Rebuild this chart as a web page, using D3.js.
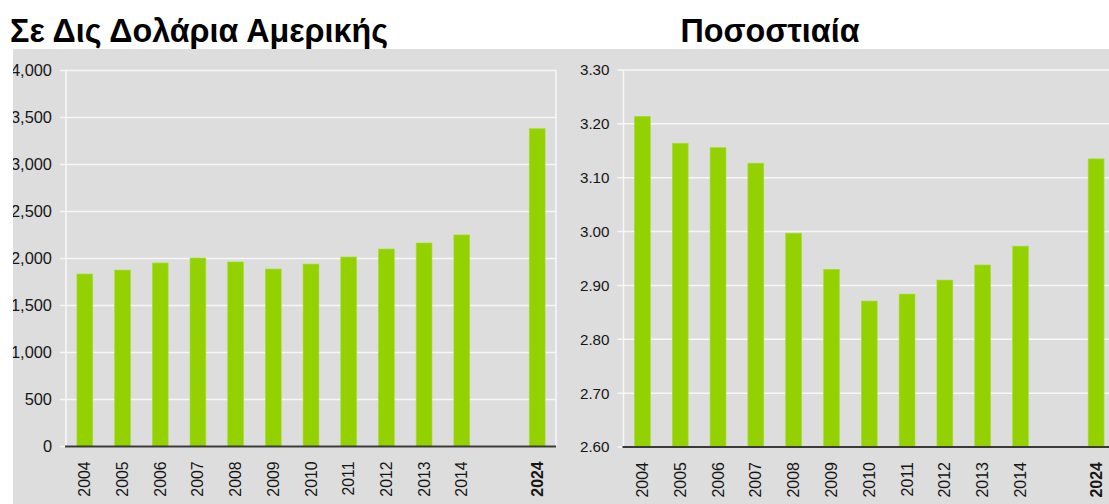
<!DOCTYPE html>
<html lang="el">
<head>
	<meta charset="UTF-8">
	<title>Chart</title>
	<script src="https://cdn.jsdelivr.net/npm/d3@7"></script>
	<style>
		body { margin: 0; background: #fff; }
		text { font-family: "Liberation Sans", Arial, sans-serif; }
	</style>
</head>
<body>
	<svg id="chart" width="1109" height="504"></svg>
</body>
<script>

const years = ['2004','2005','2006','2007','2008','2009','2010','2011','2012','2013','2014','gap','2024'];
const usdValues = [1835,1877,1952,2005,1963,1888,1941,2016,2101,2165,2251,null,3381];
const pctValues = [3.214,3.164,3.156,3.127,2.997,2.930,2.871,2.884,2.910,2.938,2.973,null,3.135];
const usdTicks = [0,500,1000,1500,2000,2500,3000,3500,4000];
const pctTicks = [2.60,2.70,2.80,2.90,3.00,3.10,3.20,3.30];
const titles = ['Σε Δις Δολάρια Αμερικής','Ποσοστιαία'];

const svg = d3.select('#chart');

svg.append('defs').append('clipPath').attr('id','panel')
	.append('rect').attr('x',13).attr('y',49).attr('width',1096).attr('height',455);

svg.append('rect')
	.attr('x',13).attr('y',49).attr('width',1096).attr('height',455)
	.attr('fill','#dddddd');

svg.append('text').attr('x',10).attr('y',42)
	.attr('font-size',32.3).attr('font-weight','bold').attr('fill','#000')
	.text(titles[0]);
svg.append('text').attr('x',770).attr('y',42).attr('text-anchor','middle')
	.attr('font-size',32.3).attr('font-weight','bold').attr('fill','#000')
	.text(titles[1]);

const g = svg.append('g').attr('clip-path','url(#panel)');

function drawPanel({x0, x1, y0, y1, domain, values, ticks, fmt, rightBorder, labelSize, yearSize}){
	const x = d3.scaleBand().domain(years).range([x0, x1]).paddingInner(0.58).paddingOuter(0.29);
	const y = d3.scaleLinear().domain(domain).range([y0, y1]);
	const p = g.append('g');

	// gridlines + tick marks
	p.selectAll('line.grid').data(ticks).join('line')
		.attr('x1', x0 - 6).attr('x2', rightBorder ? x1 : 1109)
		.attr('y1', d => y(d)).attr('y2', d => y(d))
		.attr('stroke','#f7f7f7').attr('stroke-width',1.5);

	p.append('line').attr('x1',x0).attr('x2',x0).attr('y1',y(domain[1])).attr('y2',y0)
		.attr('stroke','#f7f7f7').attr('stroke-width',1.5);
	if (rightBorder) {
		p.append('line').attr('x1',x1).attr('x2',x1).attr('y1',y(domain[1])).attr('y2',y0)
			.attr('stroke','#f7f7f7').attr('stroke-width',1.5);
	}

	const yAxis = d3.axisLeft(y).tickValues(ticks).tickFormat(fmt).tickSize(0).tickPadding(14);
	const ya = p.append('g').attr('transform',`translate(${x0},0)`).call(yAxis);
	ya.select('.domain').remove();
	ya.selectAll('text').attr('font-size',labelSize).attr('fill','#161616')
		.attr('font-family','"Liberation Sans", Arial, sans-serif');

	const data = years.map((k,i) => ({k, v: values[i]})).filter(d => d.v != null);
	p.selectAll('rect.bar').data(data).join('rect')
		.attr('x', d => x(d.k)).attr('width', x.bandwidth())
		.attr('y', d => y(d.v)).attr('height', d => y0 - y(d.v))
		.attr('fill','#93d200').attr('stroke','#a8dc3a').attr('stroke-width',0.6);

	p.append('line').attr('x1',x0 - 1).attr('x2', rightBorder ? x1 : 1109)
		.attr('y1',y0).attr('y2',y0).attr('stroke','#3a3a3a').attr('stroke-width',2);

	const xAxis = d3.axisBottom(x).tickFormat(d => d === 'gap' ? '' : d).tickSize(0).tickPadding(0);
	const xa = p.append('g').attr('transform',`translate(0,${y0})`).call(xAxis);
	xa.select('.domain').remove();
	xa.selectAll('text')
		.attr('font-size',yearSize).attr('fill','#161616')
		.attr('font-family','"Liberation Sans", Arial, sans-serif')
		.attr('font-weight', d => d === '2024' ? 'bold' : 'normal')
		.attr('text-anchor','end').attr('dy','0.35em')
		.attr('transform','translate(0,15) rotate(-90)')
		.attr('x',0).attr('y',0);
}

drawPanel({x0: 66, x1: 556, y0: 446.5, y1: 70.5, domain: [0,4000], values: usdValues,
	ticks: usdTicks, fmt: d3.format(','), rightBorder: true, labelSize: 16.4, yearSize: 15.8});
drawPanel({x0: 623.5, x1: 1115, y0: 447, y1: 70, domain: [2.6,3.3], values: pctValues,
	ticks: pctTicks, fmt: d3.format('.2f'), rightBorder: false, labelSize: 15.2, yearSize: 16});

</script>
</html>
